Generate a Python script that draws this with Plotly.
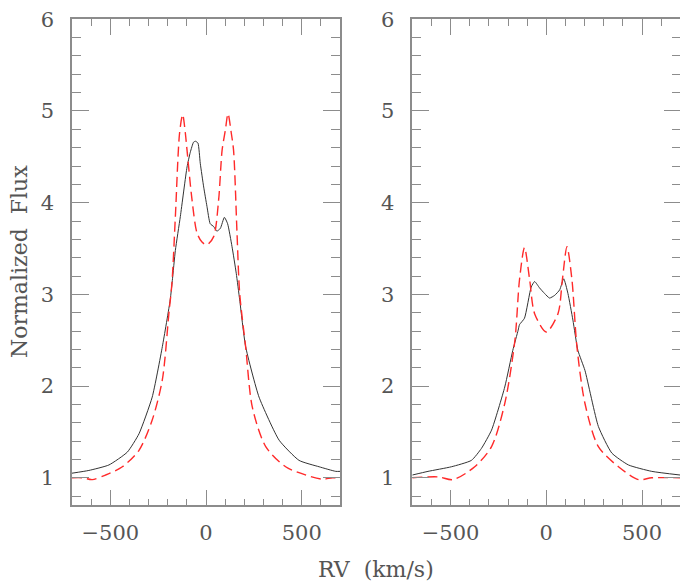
import plotly.graph_objects as go

# left panel: observed profile (black) and model (red dashed)
rv_obs_l = [-700, -612, -507, -411, -350, -281, -228, -187, -176, -160, -134, -99, -82, -65, -55, -42,
            -30, -12, 5, 22, 40, 57, 75, 96, 113, 136, 158, 176, 207, 277, 382, 486, 591, 678, 700]
flux_obs_l = [1.05, 1.08, 1.14, 1.28, 1.48, 1.88, 2.43, 2.94, 3.15, 3.48, 3.85, 4.39, 4.55, 4.66, 4.67, 4.65,
              4.43, 4.17, 3.96, 3.77, 3.74, 3.69, 3.72, 3.84, 3.77, 3.52, 3.23, 2.94, 2.43, 1.88, 1.41, 1.19, 1.12, 1.07, 1.07]

rv_mod_l = [-700, -647, -594, -525, -437, -350, -281, -228, -194, -178, -160, -138, -122, -108, -99, -73, -47,
            -21, 5, 40, 66, 84, 101, 115, 132, 144, 162, 176, 207, 242, 312, 416, 521, 608, 660, 700]
flux_mod_l = [1.0, 1.0, 0.98, 1.03, 1.12, 1.30, 1.63, 2.07, 2.79, 3.12, 3.85, 4.76, 4.96, 4.76, 4.57, 4.03, 3.67,
              3.57, 3.54, 3.63, 4.03, 4.57, 4.79, 4.97, 4.76, 4.57, 3.67, 3.01, 2.43, 1.77, 1.34, 1.12, 1.03, 0.985, 1.0, 1.0]

# right panel
rv_obs_r = [-700, -618, -496, -391, -339, -286, -217, -175, -147, -140, -114, -79, -61, -35, -9, 17, 44, 70,
            91, 113, 139, 165, 202, 272, 342, 429, 551, 700]
flux_obs_r = [1.03, 1.07, 1.12, 1.19, 1.32, 1.52, 1.99, 2.39, 2.61, 2.67, 2.74, 3.08, 3.14, 3.07, 3.01, 2.96, 2.99, 3.05,
              3.17, 3.01, 2.72, 2.39, 2.17, 1.56, 1.27, 1.14, 1.07, 1.03]

rv_mod_r = [-700, -565, -487, -374, -286, -217, -164, -140, -114, -87, -61, 0, 61, 84, 108, 134, 160, 202,
            272, 377, 482, 551, 700]
flux_mod_r = [1.0, 1.01, 0.98, 1.12, 1.34, 1.81, 2.50, 3.16, 3.51, 3.16, 2.79, 2.59, 2.79, 3.16, 3.52, 3.16, 2.43, 1.81,
              1.34, 1.12, 0.98, 1.0, 1.0]

flux_ticks = [1, 2, 3, 4, 5, 6]
rv_ticks = [-500, 0, 500]

obs_color = '#333333'
mod_color = '#ff2a2a'
frame = '#8c8c8c'
font = 'DejaVu Serif'

# the page body has an 8px margin, so the figure is 8px smaller and everything is placed 8px up/left
W, H = 680, 576
OFF = 8

obs_line = dict(color=obs_color, width=1, shape='spline', smoothing=0.5)
mod_line = dict(color=mod_color, width=1.4, dash='10px,5px', shape='spline', smoothing=0.8)

fig = go.Figure()
fig.add_trace(go.Scatter(x=rv_obs_l, y=flux_obs_l, mode='lines', line=obs_line, xaxis='x', yaxis='y'))
fig.add_trace(go.Scatter(x=rv_mod_l, y=flux_mod_l, mode='lines', line=mod_line, xaxis='x', yaxis='y'))
fig.add_trace(go.Scatter(x=rv_obs_r, y=flux_obs_r, mode='lines', line=obs_line, xaxis='x2', yaxis='y2'))
fig.add_trace(go.Scatter(x=rv_mod_r, y=flux_mod_r, mode='lines', line=mod_line, xaxis='x2', yaxis='y2'))

common = dict(showline=True, linecolor=frame, linewidth=1.5, mirror='ticks', ticks='inside', tickcolor=frame,
              tickwidth=1.2, showgrid=False, zeroline=False, automargin=False, ticklabeloverflow='allow',
              tickfont=dict(family=font, size=21, color='#555555'))

xcommon = dict(common, range=[-700, 700], tickvals=rv_ticks, ticklen=16,
               minor=dict(dtick=100, tick0=0, ticklen=7, ticks='inside', tickcolor=frame, tickwidth=1.2),
               ticklabelstandoff=8)
ycommon = dict(common, range=[0.7, 6.003], tickvals=flux_ticks, ticklen=17,
               minor=dict(dtick=0.2, tick0=0, ticklen=9, ticks='inside', tickcolor=frame, tickwidth=1.2),
               ticklabelstandoff=12)


def px_x(p):
    return (p - OFF) / W


def px_y(p):
    return 1 - (p - OFF) / H


yd = [px_y(505.3), px_y(19)]
fig.update_layout(
    width=W, height=H,
    margin=dict(l=0, r=0, t=0, b=0),
    paper_bgcolor='white', plot_bgcolor='white',
    showlegend=False,
    xaxis=dict(xcommon, domain=[px_x(72), px_x(340)], anchor='y'),
    yaxis=dict(ycommon, domain=yd, anchor='x'),
    xaxis2=dict(xcommon, domain=[px_x(412.3), px_x(680.3)], anchor='y2'),
    yaxis2=dict(ycommon, domain=yd, anchor='x2'),
    annotations=[
        dict(text='RV  (km/s)', x=px_x(376), y=px_y(569), xref='paper', yref='paper',
             showarrow=False, font=dict(family=font, size=22, color='#555555'), xanchor='center', yanchor='middle'),
        dict(text='Normalized  Flux', x=px_x(19), y=px_y(262), xref='paper', yref='paper', textangle=-90,
             showarrow=False, font=dict(family=font, size=22, color='#555555'), xanchor='center', yanchor='middle'),
    ],
)

fig.write_html("out.html")
